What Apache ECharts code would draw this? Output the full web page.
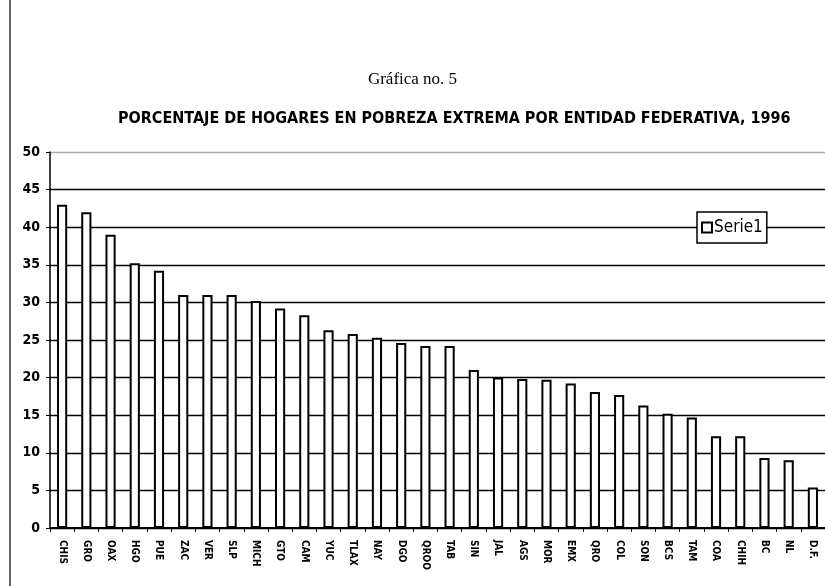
<!DOCTYPE html>
<html>
<head>
<meta charset="utf-8">
<script src="https://cdn.jsdelivr.net/npm/echarts@6/dist/echarts.min.js"></script>
<style>
  html, body { margin: 0; padding: 0; background: #fff; }
  #main { width: 825px; height: 586px; }
</style>
</head>
<body>
<div id="main"></div>
<script>
// entidades federativas
var estados = ['CHIS', 'GRO', 'OAX', 'HGO', 'PUE', 'ZAC', 'VER', 'SLP', 'MICH', 'GTO', 'CAM', 'YUC',
  'TLAX', 'NAY', 'DGO', 'QROO', 'TAB', 'SIN', 'JAL', 'AGS', 'MOR', 'EMX', 'QRO', 'COL',
  'SON', 'BCS', 'TAM', 'COA', 'CHIH', 'BC', 'NL', 'D.F.'];
// porcentaje de hogares en pobreza extrema
var serie1 = [43, 42, 39, 35.2, 34.2, 31, 31, 31, 30.2, 29.2, 28.3, 26.3,
  25.8, 25.3, 24.6, 24.2, 24.2, 21, 20, 19.8, 19.7, 19.2, 18.1, 17.7,
  16.3, 15.2, 14.7, 12.2, 12.2, 9.3, 9, 5.4];
var yTicks = [0, 5, 10, 15, 20, 25, 30, 35, 40, 45, 50];

// la linea de 50 es tenue en el original
var gridColors = yTicks.map(function (v, i) { return i === yTicks.length - 1 ? '#aaa' : '#000'; });

var myChart = echarts.init(document.getElementById('main'));
myChart.setOption({
  animation: false,
  backgroundColor: '#fff',
  title: [{
    text: 'Gráfica no. 5',
    left: 'center',
    top: 66,
    textStyle: { fontFamily: 'Liberation Serif', fontWeight: 'normal', fontSize: 17, color: '#000' }
  }, {
    text: 'PORCENTAJE DE HOGARES EN POBREZA EXTREMA POR ENTIDAD FEDERATIVA, 1996',
    left: 113,
    top: 106,
    textStyle: { fontFamily: 'DejaVu Sans Condensed, Liberation Sans', fontWeight: 'bold', fontSize: 16, color: '#000' }
  }],
  legend: {
    data: ['Serie1'],
    left: 697,
    top: 212,
    orient: 'vertical',
    backgroundColor: '#fff',
    borderColor: '#000',
    borderWidth: 1.5,
    borderRadius: 0,
    padding: [7, 4, 7, 4],
    itemWidth: 10,
    itemHeight: 10,
    itemGap: 2,
    icon: 'rect',
    textStyle: { fontFamily: 'DejaVu Sans Condensed, Liberation Sans', fontSize: 17, color: '#000', padding: [0, 0, 0, -3] }
  },
  grid: { left: 50, right: -2, top: 152, bottom: 58 },
  xAxis: {
    type: 'category',
    data: estados,
    axisLine: { lineStyle: { color: '#000', width: 2 } },
    axisTick: { show: true, length: 4, lineStyle: { color: '#000', width: 1 } },
    axisLabel: {
      rotate: -90,
      interval: 0,
      margin: 12,
      color: '#000',
      fontFamily: 'DejaVu Sans Condensed, Liberation Sans',
      fontWeight: 'bold',
      fontSize: 10
    }
  },
  yAxis: {
    type: 'value',
    min: yTicks[0],
    max: yTicks[yTicks.length - 1],
    interval: 5,
    axisLine: { show: true, lineStyle: { color: '#000', width: 1.5 } },
    axisTick: { show: true, length: 4, inside: false, lineStyle: { color: '#000' } },
    axisLabel: {
      color: '#000',
      fontFamily: 'DejaVu Sans Condensed, Liberation Sans',
      fontWeight: 'bold',
      fontSize: 14,
      margin: 10
    },
    splitLine: { lineStyle: { color: gridColors, width: 1.3 } }
  },
  graphic: [{
    type: 'line',
    shape: { x1: 10, y1: 0, x2: 10, y2: 586 },
    style: { stroke: '#000', lineWidth: 1.2 }
  }],
  series: [{
    name: 'Serie1',
    type: 'bar',
    data: serie1,
    barWidth: '42%',
    itemStyle: { color: '#fff', borderColor: '#000', borderWidth: 2 }
  }]
});
</script>
</body>
</html>
